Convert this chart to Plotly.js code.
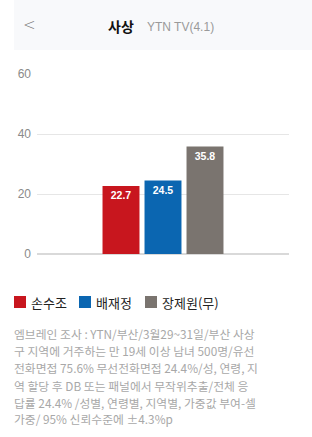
<!DOCTYPE html>
<html><head><meta charset="utf-8">
<script src="https://cdn.plot.ly/plotly-3.0.1.min.js"></script>
<style>html,body{margin:0;padding:0;background:#fff;}#chart{width:312px;height:437px;}</style>
</head><body><div id="chart"></div>
<script>
const candidates = ["손수조", "배재정", "장제원(무)"];
const values = [22.7, 24.5, 35.8];
const colors = ["#c8161e", "#0b66b1", "#7a746f"];
const yTicks = [0, 20, 40, 60];
const titleText = "사상";
const subtitleText = "YTN TV(4.1)";
const noteLines = [
  "엠브레인 조사 : YTN/부산/3월29~31일/부산 사상",
  "구 지역에 거주하는 만 19세 이상 남녀 500명/유선",
  "전화면접 75.6% 무선전화면접 24.4%/성, 연령, 지",
  "역 할당 후 DB 또는 패널에서 무작위추출/전체 응",
  "답률 24.4% /성별, 연령별, 지역별, 가중값 부여-셀",
  "가중/ 95% 신뢰수준에 ±4.3%p"
];

const traces = candidates.map((name, i) => ({
  type: "bar",
  name: name,
  x: ["사상"],
  y: [values[i]],
  marker: {color: colors[i]},
  text: [values[i].toFixed(1)],
  textposition: "inside",
  insidetextanchor: "end",
  textangle: 0,
  textfont: {color: "#ffffff", size: 10.5, family: "Liberation Sans Narrow, Arial Narrow, Liberation Sans, sans-serif", weight: "bold"},
  hoverinfo: "none",
  showlegend: false
}));

const W = 312, H = 437;
const L = 37, T = 74, PW = 252, PH = 180;
const px = v => (v - L) / PW;
const py = v => (T + PH - v) / PH;
const ann = [];
const shapes = [{type: "rect", xref: "paper", yref: "paper", layer: "below",
  x0: px(14), x1: px(312), y0: py(50), y1: py(0),
  fillcolor: "#f8f9fb", line: {width: 0}}];

ann.push({xref: "paper", yref: "paper", x: px(21), y: py(25), xanchor: "left", yanchor: "middle",
  text: "<", showarrow: false, font: {family: "DejaVu Sans, sans-serif", size: 15, color: "#777", weight: 300}});
ann.push({xref: "paper", yref: "paper", x: px(106), y: py(26), xanchor: "left", yanchor: "middle",
  text: "<b>" + titleText + "</b>", showarrow: false, font: {family: "Noto Sans CJK KR, sans-serif", size: 14, color: "#111"}});
ann.push({xref: "paper", yref: "paper", x: px(145), y: py(27), xanchor: "left", yanchor: "middle",
  text: subtitleText, showarrow: false, font: {family: "Liberation Sans, Arial, sans-serif", size: 12, color: "#9a9a9a"}});

// legend (built from candidates / colors)
const legendX = [14, 79, 145];
candidates.forEach((name, i) => {
  shapes.push({type: "rect", xref: "paper", yref: "paper",
    x0: px(legendX[i]), x1: px(legendX[i] + 12), y0: py(308), y1: py(296),
    fillcolor: colors[i], line: {width: 0}});
  ann.push({xref: "paper", yref: "paper", x: px(legendX[i] + 15), y: py(302), xanchor: "left", yanchor: "middle",
    text: name, showarrow: false, font: {family: "Noto Sans CJK KR, sans-serif", size: 13, color: "#222"}});
});

const noteY = [333, 350, 367, 385, 402, 418];
noteLines.forEach((t, i) => {
  ann.push({xref: "paper", yref: "paper", x: px(12), y: py(noteY[i]), xanchor: "left", yanchor: "middle",
    text: t, showarrow: false, font: {family: "Noto Sans CJK KR, sans-serif", size: 11.8, color: "#a8a8a8"}});
});

const layout = {
  width: W, height: H,
  margin: {l: L, r: W - L - PW, t: T, b: H - T - PH, pad: 0},
  paper_bgcolor: "#ffffff",
  plot_bgcolor: "#ffffff",
  barmode: "group",
  bargap: 0.5,
  bargroupgap: 0.12,
  showlegend: false,
  xaxis: {type: "category", range: [-0.5, 0.5], autorange: false, showticklabels: false, showgrid: false, zeroline: false, showline: false, fixedrange: true},
  yaxis: {range: [0, 60], tickvals: yTicks, ticktext: yTicks.map(String), showgrid: true, gridcolor: "#e6e6e6",
    gridwidth: 1, zeroline: true, zerolinecolor: "#d9d9d9", zerolinewidth: 1.5, showline: false, ticks: "",
    ticklabelstandoff: 5,
    tickfont: {family: "Liberation Sans, Arial, sans-serif", size: 12, color: "#8a8a8a"}, fixedrange: true},
  shapes: shapes,
  annotations: ann,
  font: {family: "Noto Sans CJK KR, sans-serif"}
};

Plotly.newPlot("chart", traces, layout, {displayModeBar: false, staticPlot: true});
</script></body></html>
